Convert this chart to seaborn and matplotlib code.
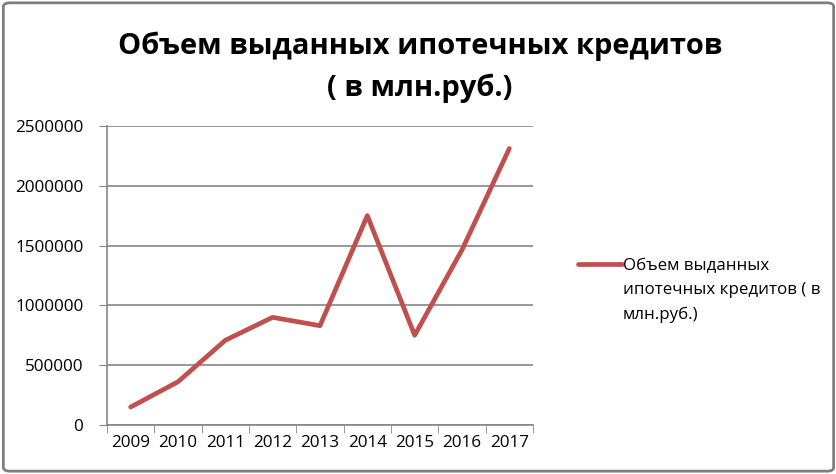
import numpy as np
import pandas as pd
import seaborn as sns
import matplotlib.pyplot as plt
from matplotlib.patches import FancyBboxPatch

sns.set_style('white')
plt.rcParams['font.family'] = ['Open Sans', 'DejaVu Sans']
plt.rcParams['text.color'] = 'black'

years = ['2009', '2010', '2011', '2012', '2013', '2014', '2015', '2016', '2017']
volume = [150000, 361000, 708000, 900000, 830000, 1750000, 750000, 1464000, 2311000]
series_name = 'Объем выданных ипотечных кредитов ( в млн.руб.)'
legend_lines = ['Объем выданных', 'ипотечных кредитов ( в', 'млн.руб.)']
title = 'Объем выданных ипотечных кредитов\n( в млн.руб.)'

df = pd.DataFrame({'Год': years, series_name: volume})

fig = plt.figure(figsize=(8.37, 4.74), dpi=100)
ax = fig.add_axes([0.1278, 0.1034, 0.509, 0.631])

sns.lineplot(data=df, x='Год', y=series_name, ax=ax, color='#C0504D',
             linewidth=3.4, label=legend_lines[0], solid_capstyle='round')

ax.set_xlim(-0.5, len(years) - 0.5)
ax.set_ylim(0, 2500000)
ax.set_yticks(np.arange(0, 2500001, 500000))
ax.set_yticklabels([str(v) for v in range(0, 2500001, 500000)])
ax.set_xticks(range(len(years)))
ax.set_xticklabels(years)
ax.set_xticks(np.arange(-0.5, len(years), 1), minor=True)
ax.set_xlabel('')
ax.set_ylabel('')

ax.grid(axis='y', color='#868686', linewidth=1.2)
ax.set_axisbelow(True)
for side in ['top', 'right']:
    ax.spines[side].set_visible(False)
for side in ['left', 'bottom']:
    ax.spines[side].set_color('#868686')
    ax.spines[side].set_linewidth(1.2)

ax.tick_params(axis='y', which='major', left=True, length=6, color='#868686',
               labelsize=12.3, pad=11, labelcolor='black')
ax.tick_params(axis='x', which='major', bottom=False, labelsize=12.3, pad=4,
               labelcolor='black')
ax.tick_params(axis='x', which='minor', bottom=True, length=6, color='#868686')

leg_fs = 12.2
leg = fig.legend(loc='center left', bbox_to_anchor=(0.6906, 0.439), frameon=False,
                 fontsize=leg_fs, handlelength=2.6, handletextpad=0.05,
                 borderpad=0, borderaxespad=0)
if ax.get_legend():
    ax.get_legend().remove()

# remaining legend lines, wrapped under the first one like in Excel
fig.canvas.draw()
renderer = fig.canvas.get_renderer()
t0 = leg.get_texts()[0]
bb = t0.get_window_extent(renderer)
_, _, d = renderer.get_text_width_height_descent('lp', t0.get_fontproperties(), ismath=False)
baseline = bb.y0 + d
step = 24.5
for i, line in enumerate(legend_lines[1:], start=1):
    fig.text(bb.x0 / fig.bbox.width, (baseline - i * step) / fig.bbox.height, line,
             ha='left', va='baseline', fontsize=leg_fs, color='black')

fig.text(0.502, 0.858, title, ha='center', va='center', fontsize=21,
         fontweight='bold', linespacing=1.55, color='black')

border = FancyBboxPatch((0.004, 0.006), 0.992, 0.988, transform=fig.transFigure,
                        boxstyle='round,pad=0,rounding_size=0.008',
                        facecolor='none', edgecolor='#7f7f7f', linewidth=2)
fig.patches.append(border)

fig.savefig('out.png', dpi=100)
